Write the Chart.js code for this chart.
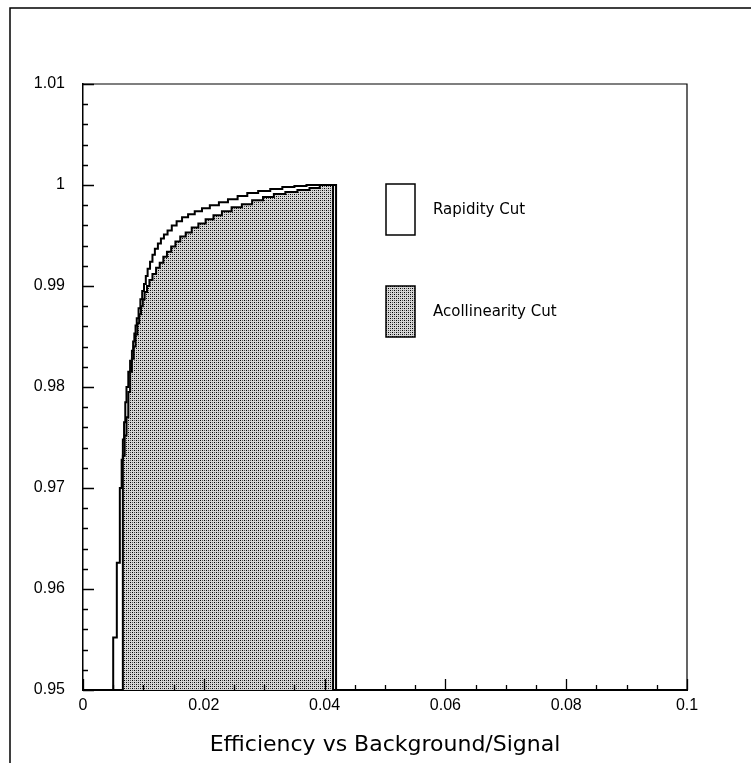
<!DOCTYPE html>
<html>
<head>
<meta charset="utf-8">
<script src="https://cdn.jsdelivr.net/npm/chart.js@4/dist/chart.umd.min.js"></script>
<style>
html, body { margin: 0; padding: 0; background: #fff; }
#wrap { width: 751px; height: 763px; }
</style>
</head>
<body>
<div id="wrap"><canvas id="the-graph" width="751" height="763"></canvas></div>
<script>
// series (background/signal, efficiency)
var rapidityX = [0.0050, 0.0050, 0.0056, 0.0061, 0.0064, 0.0066, 0.0068, 0.0070, 0.0072, 0.0075,
                 0.0078, 0.0081, 0.0083, 0.0085, 0.0087, 0.0089, 0.0092, 0.0095, 0.0098, 0.0101,
                 0.0104, 0.0107, 0.0111, 0.0115, 0.0119, 0.0124, 0.0129, 0.0134, 0.0140, 0.0147,
                 0.0155, 0.0164, 0.0174, 0.0185, 0.0197, 0.0210, 0.0225, 0.0240, 0.0256, 0.0272,
                 0.0290, 0.0310, 0.0330, 0.0350, 0.0370, 0.0419, 0.0419];
var rapidityY = [0.9500, 0.9552, 0.9626, 0.9700, 0.9728, 0.9748, 0.9765, 0.9785, 0.9800, 0.9815,
                 0.9826, 0.9836, 0.9845, 0.9853, 0.9861, 0.9868, 0.9878, 0.9887, 0.9895, 0.9902,
                 0.9910, 0.9917, 0.9924, 0.9931, 0.9937, 0.9942, 0.9947, 0.9951, 0.9955, 0.9960,
                 0.9964, 0.9968, 0.9971, 0.9974, 0.9977, 0.9980, 0.9983, 0.9986, 0.9989, 0.9992,
                 0.9994, 0.9996, 0.9998, 0.9999, 1.0000, 1.0000, 0.9500];

var acolX = [0.0066, 0.0066, 0.0069, 0.0072, 0.0075, 0.0078, 0.0081, 0.0084, 0.0087, 0.0090,
             0.0093, 0.0096, 0.0099, 0.0102, 0.0106, 0.0110, 0.0115, 0.0121, 0.0127, 0.0133,
             0.0139, 0.0146, 0.0153, 0.0161, 0.0170, 0.0180, 0.0191, 0.0203, 0.0216, 0.0230,
             0.0246, 0.0263, 0.0280, 0.0298, 0.0316, 0.0335, 0.0355, 0.0375, 0.0392, 0.0414,
             0.0414];
var acolY = [0.9500, 0.9732, 0.9752, 0.9770, 0.9795, 0.9815, 0.9828, 0.9840, 0.9852, 0.9863,
             0.9872, 0.9880, 0.9887, 0.9894, 0.9900, 0.9906, 0.9912, 0.9918, 0.9923, 0.9929,
             0.9934, 0.9939, 0.9944, 0.9949, 0.9953, 0.9958, 0.9962, 0.9966, 0.9970, 0.9974,
             0.9978, 0.9981, 0.9985, 0.9988, 0.9991, 0.9993, 0.9995, 0.9997, 1.0000, 1.0000,
             0.9500];

var seriesNames = ['Rapidity Cut', 'Acollinearity Cut'];
var axisTitle = 'Efficiency vs Background/Signal';

function toPoints(xs, ys) {
  var pts = [];
  for (var i = 0; i < xs.length; i++) pts.push({ x: xs[i], y: ys[i] });
  return pts;
}

function stipple(ctx) {
  var tile = document.createElement('canvas');
  tile.width = 4; tile.height = 4;
  var g = tile.getContext('2d');
  g.fillStyle = '#d6d6d6'; g.fillRect(0, 0, 4, 4);
  g.fillStyle = '#000'; g.fillRect(0, 0, 1, 1); g.fillRect(2, 2, 1, 1);
  g.fillStyle = '#555'; g.fillRect(2, 0, 1, 1); g.fillRect(0, 2, 1, 1);
  return ctx.createPattern(tile, 'repeat');
}

function fmt(v) { return String(+v.toFixed(2)); }

// inward tick marks, outer frame and the box legend
var decorations = {
  id: 'decorations',
  afterDraw: function (chart) {
    var ctx = chart.ctx, a = chart.chartArea;
    var sx = chart.scales.x, sy = chart.scales.y;
    var v, px, len;
    ctx.save();
    ctx.strokeStyle = '#000';

    // page frame
    ctx.lineWidth = 1.5;
    ctx.beginPath();
    ctx.moveTo(10, 763); ctx.lineTo(10, 8); ctx.lineTo(751, 8);
    ctx.stroke();

    // top / right edge of plot box
    ctx.lineWidth = 1.2;
    ctx.beginPath();
    ctx.moveTo(a.left, a.top); ctx.lineTo(a.right, a.top); ctx.lineTo(a.right, a.bottom);
    ctx.stroke();

    ctx.lineWidth = 1.3;
    ctx.beginPath();
    for (var k = 0; k <= 30; k++) {
      v = 0.95 + k * 0.002;
      px = Math.round(sy.getPixelForValue(v)) + 0.5;
      len = (k % 5 === 0) ? 11 : 5;
      ctx.moveTo(a.left, px); ctx.lineTo(a.left + len, px);
    }
    for (k = 0; k <= 20; k++) {
      v = k * 0.005;
      px = Math.round(sx.getPixelForValue(v)) + 0.5;
      len = (k % 4 === 0) ? 11 : 5;
      ctx.moveTo(px, a.bottom); ctx.lineTo(px, a.bottom - len);
    }
    ctx.stroke();

    // legend
    var tops = [184, 286];
    chart.data.datasets.forEach(function (ds, i) {
      ctx.fillStyle = ds.backgroundColor;
      ctx.fillRect(386, tops[i], 29, 51);
      ctx.lineWidth = 1.5;
      ctx.strokeStyle = ds.borderColor;
      ctx.strokeRect(386, tops[i], 29, 51);
      ctx.fillStyle = '#000';
      ctx.font = '15px "DejaVu Sans"';
      ctx.textAlign = 'left';
      ctx.textBaseline = 'middle';
      ctx.fillText(ds.label, 433, tops[i] + 26);
    });
    ctx.restore();
  }
};

var canvas = document.getElementById('the-graph');
var pattern = stipple(canvas.getContext('2d'));

var chart = new Chart(canvas, {
  type: 'line',
  data: {
    datasets: [{
      label: seriesNames[0],
      data: toPoints(rapidityX, rapidityY),
      stepped: 'before',
      borderColor: '#000',
      borderWidth: 2,
      backgroundColor: '#fff',
      fill: false,
      pointRadius: 0
    }, {
      label: seriesNames[1],
      data: toPoints(acolX, acolY),
      stepped: 'before',
      borderColor: '#000',
      borderWidth: 2,
      backgroundColor: pattern,
      fill: 'start',
      pointRadius: 0
    }]
  },
  options: {
    responsive: false,
    animation: false,
    layout: { padding: { left: 0, top: 84, right: 64, bottom: 0 } },
    plugins: { legend: { display: false }, tooltip: { enabled: false } },
    scales: {
      x: {
        type: 'linear', min: 0, max: 0.1,
        grid: { drawOnChartArea: false, drawTicks: false },
        border: { color: '#000', width: 2 },
        ticks: { stepSize: 0.02, padding: 6, color: '#000', maxRotation: 0,
                 font: { family: 'Liberation Sans', size: 16 }, callback: fmt },
        title: { display: true, text: axisTitle, color: '#000',
                 font: { family: 'DejaVu Sans', size: 22 }, padding: { top: 0, bottom: 5 } },
        afterFit: function (s) { s.height = 73; }
      },
      y: {
        type: 'linear', min: 0.95, max: 1.01,
        grid: { drawOnChartArea: false, drawTicks: false },
        border: { color: '#000', width: 1.5 },
        ticks: { stepSize: 0.01, padding: 18, color: '#000',
                 font: { family: 'Liberation Sans', size: 16 }, callback: fmt },
        afterFit: function (s) { s.width = 83; }
      }
    }
  },
  plugins: [decorations]
});
</script>
</body>
</html>
